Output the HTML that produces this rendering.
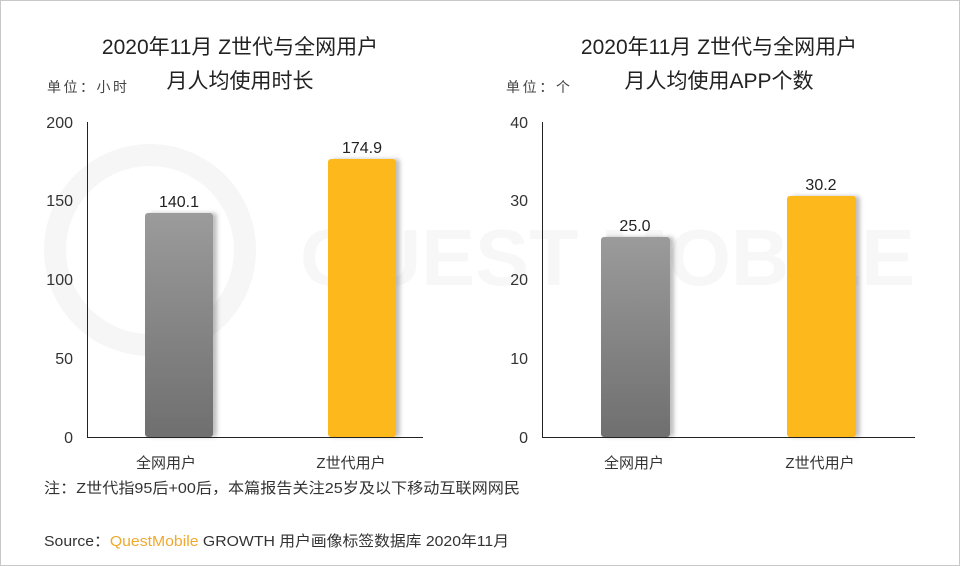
<!DOCTYPE html>
<html><head><meta charset="utf-8"><style>
body{margin:0;width:960px;height:566px;overflow:hidden;background:#fff;}
svg{display:block}
text{font-family:"Liberation Sans","Noto Sans CJK SC",sans-serif;}
</style></head><body>
<svg width="960" height="566" viewBox="0 0 960 566">
<defs>
<linearGradient id="g" x1="0" y1="0" x2="0" y2="1"><stop offset="0" stop-color="#9b9b9b"/><stop offset="1" stop-color="#6f6f6f"/></linearGradient>
<filter id="s" x="-20%" y="-10%" width="150%" height="120%"><feDropShadow dx="4" dy="0" stdDeviation="2" flood-color="#000" flood-opacity="0.25"/></filter>
</defs>
<rect x="0.5" y="0.5" width="959" height="565" fill="#fff" stroke="#c8c8c8"/>
<!-- watermark -->
<circle cx="150" cy="250" r="95" fill="none" stroke="#f6f6f6" stroke-width="22"/>
<text x="300" y="285" font-size="80" fill="#f7f7f7" font-weight="bold" textLength="615" lengthAdjust="spacingAndGlyphs">QUEST MOBILE</text>
<!-- titles -->
<text x="240" y="54" font-size="21" fill="#222" text-anchor="middle">2020年11月 Z世代与全网用户</text>
<text x="240" y="88" font-size="21" fill="#222" text-anchor="middle">月人均使用时长</text>
<text x="47" y="92" font-size="14" fill="#444" textLength="80">单位：小时</text>
<text x="719" y="54" font-size="21" fill="#222" text-anchor="middle">2020年11月 Z世代与全网用户</text>
<text x="719" y="88" font-size="21" fill="#222" text-anchor="middle">月人均使用APP个数</text>
<text x="506" y="92" font-size="14" fill="#444" textLength="64">单位：个</text>
<!-- left chart -->
<g font-size="16" fill="#333" text-anchor="end">
<text x="73" y="128">200</text><text x="73" y="206">150</text><text x="73" y="285">100</text><text x="73" y="364">50</text><text x="73" y="443">0</text>
</g>
<rect x="145" y="213" width="68" height="224" rx="3" fill="url(#g)" filter="url(#s)"/>
<rect x="328" y="159" width="68" height="278" rx="3" fill="#fdb81c" filter="url(#s)"/>
<line x1="87.5" y1="122" x2="87.5" y2="437" stroke="#222"/>
<line x1="87" y1="437.5" x2="423" y2="437.5" stroke="#222"/>
<g font-size="16" fill="#222" text-anchor="middle">
<text x="179" y="207">140.1</text><text x="362" y="153">174.9</text></g>
<g font-size="15" fill="#333" text-anchor="middle">
<text x="166" y="468">全网用户</text><text x="351" y="468">Z世代用户</text></g>
<!-- right chart -->
<g font-size="16" fill="#333" text-anchor="end">
<text x="528" y="128">40</text><text x="528" y="206">30</text><text x="528" y="285">20</text><text x="528" y="364">10</text><text x="528" y="443">0</text>
</g>
<rect x="601" y="237" width="69" height="200" rx="3" fill="url(#g)" filter="url(#s)"/>
<rect x="787" y="196" width="69" height="241" rx="3" fill="#fdb81c" filter="url(#s)"/>
<line x1="542.5" y1="122" x2="542.5" y2="437" stroke="#222"/>
<line x1="542" y1="437.5" x2="915" y2="437.5" stroke="#222"/>
<g font-size="16" fill="#222" text-anchor="middle">
<text x="635" y="231">25.0</text><text x="821" y="190">30.2</text></g>
<g font-size="15" fill="#333" text-anchor="middle">
<text x="634" y="468">全网用户</text><text x="820" y="468">Z世代用户</text></g>
<!-- notes -->
<text x="44" y="493" font-size="15" fill="#333" textLength="476" lengthAdjust="spacingAndGlyphs">注：Z世代指95后+00后，本篇报告关注25岁及以下移动互联网网民</text>
<text x="44" y="546" font-size="15" fill="#333" textLength="465" lengthAdjust="spacingAndGlyphs">Source：<tspan fill="#f0a92e">QuestMobile</tspan> GROWTH 用户画像标签数据库 2020年11月</text>
</svg>
</body></html>
